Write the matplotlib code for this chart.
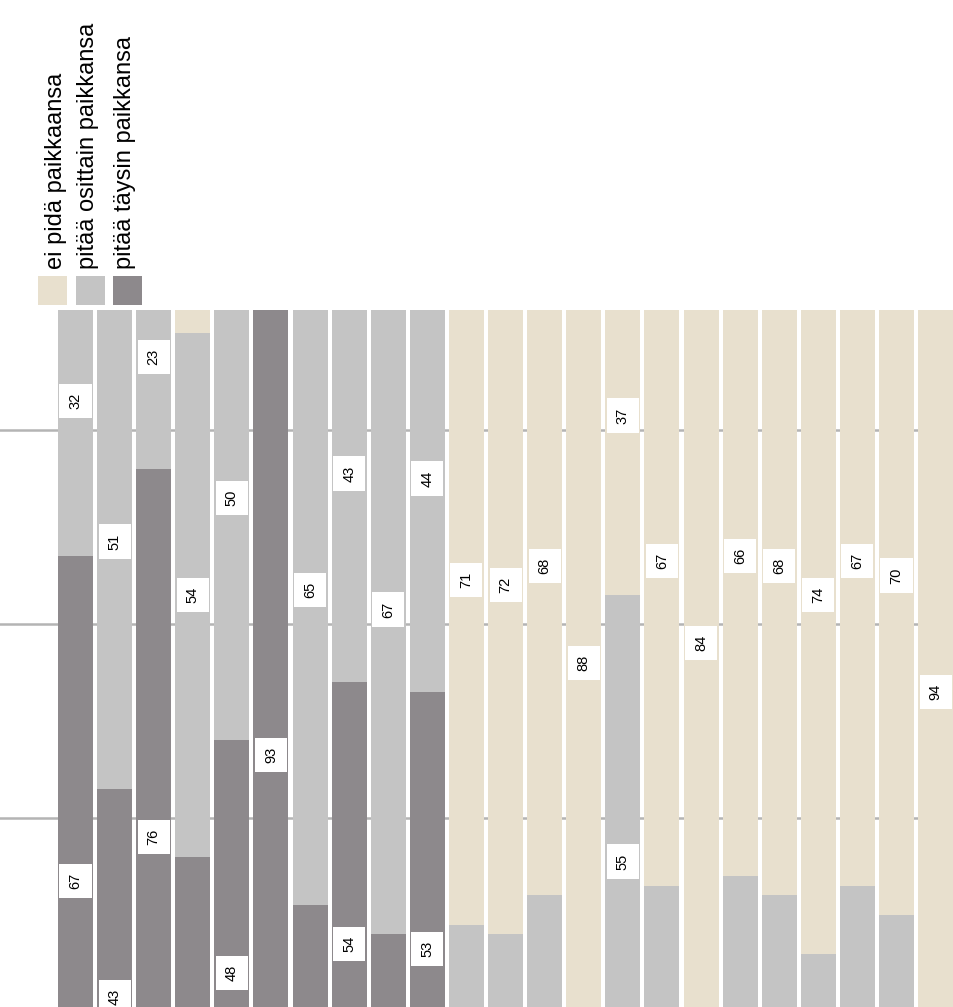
import numpy as np
import matplotlib
matplotlib.use("Agg")
import matplotlib.pyplot as plt
from matplotlib.patches import Rectangle

# ---- data ----
categories = [str(i) for i in range(1, 24)]
taysin = [67, 43, 76, 36, 48, 93, 31, 54, 28, 53,
          3, 2, 3, 2, 8, 2, 2, 3, 2, 2, 3, 2, 1]
osittain = [32, 51, 23, 54, 50, 5, 65, 43, 67, 44,
            26, 26, 29, 10, 55, 31, 14, 31, 30, 24, 30, 28, 5]
ei_pida = [1, 6, 1, 10, 2, 2, 4, 3, 5, 3,
           71, 72, 68, 88, 37, 67, 84, 66, 68, 74, 67, 70, 94]
series_names = ["ei pidä paikkaansa", "pitää osittain paikkansa", "pitää täysin paikkansa"]
grid_values = [20, 40, 60, 80, 100]

# ---- style ----
c_beige = "#e8e0ce"
c_gray = "#c4c4c4"
c_dark = "#8d898c"
W, H = 954, 1007

plt.rcParams['font.family'] = ['Liberation Sans', 'DejaVu Sans']

fig = plt.figure(figsize=(W / 100, H / 100), dpi=100)
ax = fig.add_axes([0, 0, 1, 1 - 310 / H])
x = np.arange(len(categories))
ylo, yhi = 20.5, 92.37
ax.set_xlim(-1.93, 22.47)
ax.set_ylim(ylo, yhi)
ax.set_axis_off()

for g in grid_values:
    ax.axhline(g, color="#b4b4b4", lw=1.8, zorder=0)

t = np.array(taysin)
o = np.array(osittain)
e = np.array(ei_pida)
bw = 0.895
ax.bar(x, t, width=bw, color=c_dark, zorder=2)
ax.bar(x, o, bottom=t, width=bw, color=c_gray, zorder=2)
ax.bar(x, e, bottom=t + o, width=bw, color=c_beige, zorder=2)

bottoms = [np.zeros(len(x)), t, t + o]
for vals, bot in zip([t, o, e], bottoms):
    for xi, v, b in zip(x, vals, bot):
        yc = b + v / 2
        # only labels whose box is at least partly inside the visible window
        if yc < ylo - 1.6 or yc > yhi + 1.6:
            continue
        ax.text(xi, yc, f"{v}", rotation=90, ha="center", va="center",
                fontsize=10.5, color="black", zorder=3, clip_on=True,
                bbox=dict(boxstyle="square,pad=0.62", fc="white", ec="none"))

# ---- legend ----
sw = [(38, c_beige), (76, c_gray), (113, c_dark)]
for (lx, col) in sw:
    fig.add_artist(Rectangle((lx / W, 1 - 305 / H), 29 / W, 29 / H,
                             transform=fig.transFigure, fc=col, ec="none"))
text_x = [56, 88, 125]
for tx, name in zip(text_x, series_names):
    fig.text(tx / W, 1 - 269 / H, name, rotation=90, ha="center", va="bottom",
             fontsize=17, color="black")

fig.savefig("out.png", dpi=100, facecolor="white")
